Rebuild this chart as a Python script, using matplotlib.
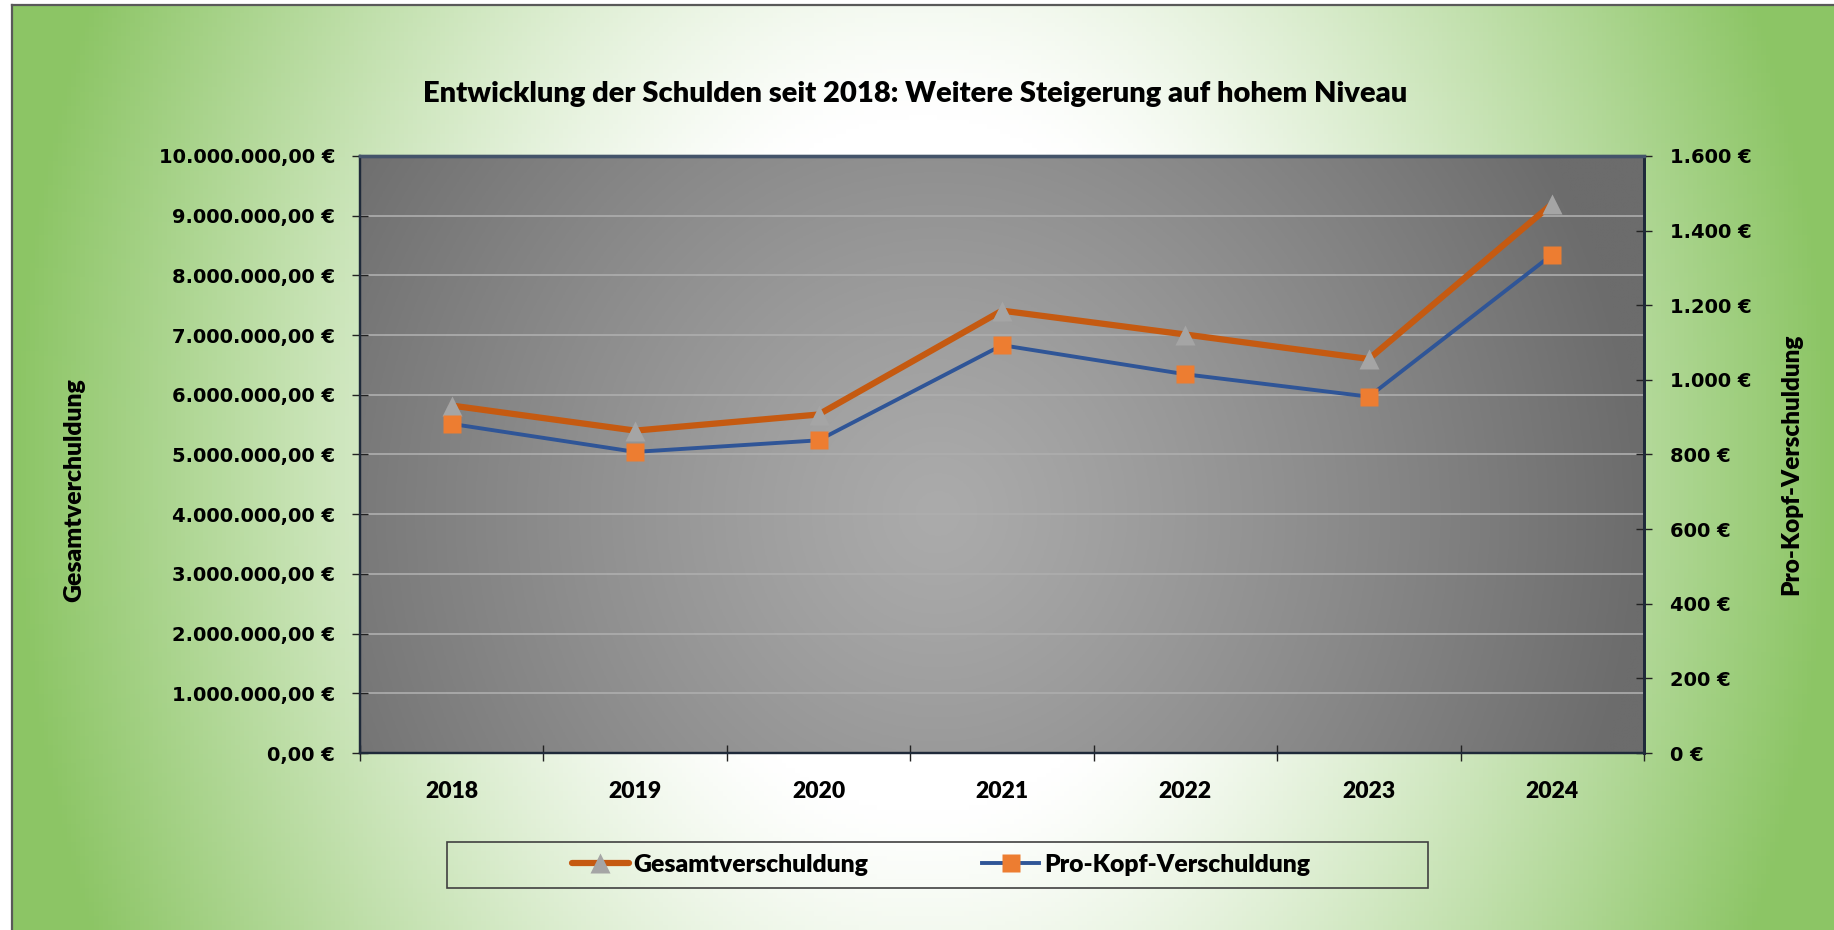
import numpy as np
import matplotlib
matplotlib.use("Agg")
import matplotlib.pyplot as plt
from matplotlib.ticker import FuncFormatter, MultipleLocator
from matplotlib.patches import Rectangle
from matplotlib.lines import Line2D

# data
years = ["2018", "2019", "2020", "2021", "2022", "2023", "2024"]
gesamt = [5820000, 5400000, 5670000, 7410000, 7010000, 6600000, 9200000]
pro_kopf = [882, 807, 838, 1093, 1015, 955, 1336]

W, H = 1834, 930
fig = plt.figure(figsize=(W / 100, H / 100), dpi=100)
fig.patch.set_facecolor("white")


def px(x, y):
    # pixel coords (top-left origin) -> figure fraction
    return x / W, 1 - y / H


def de_money(v, dec):
    s = f"{v:,.{dec}f}"
    return s.replace(",", "X").replace(".", ",").replace("X", ".") + " €"


# green radial background of the chart area
x0, ytop = 12, 5
bg = fig.add_axes([x0 / W, 0, 1 - x0 / W, 1 - ytop / H], zorder=-2)
gx, gy = np.meshgrid(np.linspace(0, 1, 400), np.linspace(0, 1, 200))
dx = (gx * (W - x0) + x0 - 923) / 911
dy = (gy * (H - ytop) + ytop - 465) / 465
t = np.sqrt(dx ** 2 + (0.4 * dy) ** 2)
f = np.clip((t - 0.3) / 0.7, 0, 1) ** 1.2
white = np.array([1.0, 1.0, 1.0])
green = np.array([140, 197, 101]) / 255
img = white[None, None, :] * (1 - f[..., None]) + green[None, None, :] * f[..., None]
bg.imshow(img, extent=[0, 1, 0, 1], aspect="auto", origin="upper")
bg.set_axis_off()

# chart frame lines (left and top)
fig.add_artist(Line2D([x0 / W, x0 / W], [0, 1 - ytop / H], color="#595959", lw=1.6))
fig.add_artist(Line2D([x0 / W, 1], [1 - ytop / H, 1 - ytop / H], color="#595959", lw=1.6))

# plot area
left, right, top, bottom = 360, 1644, 156, 753
pos = [left / W, 1 - bottom / H, (right - left) / W, (bottom - top) / H]

pbg = fig.add_axes(pos, zorder=0)
px_, py_ = np.meshgrid(np.linspace(0, 1, 400), np.linspace(1, 0, 200))
t2 = np.sqrt(((px_ - 0.45) / 0.55) ** 2 + (0.5 * (py_ - 0.4) / 0.6) ** 2)
f2 = np.clip(t2, 0, 1) ** 1.2
gray = (171 - (171 - 108) * f2) / 255
pbg.imshow(np.dstack([gray, gray, gray]), extent=[0, 1, 0, 1], aspect="auto", origin="upper")
pbg.set_axis_off()

ax = fig.add_axes(pos, zorder=1)
ax.patch.set_alpha(0)
ax2 = ax.twinx()
ax2.set_zorder(2)
ax2.patch.set_alpha(0)

xs = np.arange(len(years))
l1, = ax.plot(xs, gesamt, color="#C55A11", lw=4.5, marker="^", markersize=14,
              markerfacecolor="#A5A5A5", markeredgecolor="none", solid_capstyle="round",
              label="Gesamtverschuldung")
l2, = ax2.plot(xs, pro_kopf, color="#2F5597", lw=2.8, marker="s", markersize=13.5,
               markerfacecolor="#ED7D31", markeredgecolor="none",
               label="Pro-Kopf-Verschuldung")

ax.set_xlim(-0.5, len(years) - 0.5)
ax.set_ylim(0, 10000000)
ax2.set_ylim(0, 1600)
ax.yaxis.set_major_locator(MultipleLocator(1000000))
ax2.yaxis.set_major_locator(MultipleLocator(200))
ax.yaxis.set_major_formatter(FuncFormatter(lambda v, p: de_money(v, 2)))
ax2.yaxis.set_major_formatter(FuncFormatter(lambda v, p: de_money(v, 0)))

ax.set_xticks(np.arange(-0.5, len(years), 1.0))
ax.set_xticklabels([])
ax.set_xticks(xs, minor=True)
ax.set_xticklabels(years, minor=True)
ax.tick_params(axis="x", which="minor", length=0, pad=20)
ax.tick_params(axis="x", which="major", direction="inout", length=12, width=1, color="#222222")

for lab in ax.get_xticklabels(minor=True):
    lab.set_fontfamily("Lato")
    lab.set_fontweight("heavy")
    lab.set_fontsize(16.5)

ax.tick_params(axis="y", direction="inout", length=12, width=1, color="#222222", pad=12)
ax2.tick_params(axis="y", direction="inout", length=12, width=1, color="#222222", pad=13)
for lab in ax.get_yticklabels() + ax2.get_yticklabels():
    lab.set_fontfamily("DejaVu Sans")
    lab.set_fontweight("bold")
    lab.set_fontsize(14)

ax.grid(axis="y", color="#AEAEAE", lw=1.2)
ax.set_axisbelow(True)

for a in (ax, ax2):
    a.spines["left"].set_color("#1F2A3A")
    a.spines["bottom"].set_color("#1F2A3A")
    a.spines["right"].set_color("#1F2A3A")
    a.spines["top"].set_color("#44546A")
    a.spines["left"].set_linewidth(1.6)
    a.spines["bottom"].set_linewidth(1.6)
    a.spines["right"].set_linewidth(2.0)
    a.spines["top"].set_linewidth(2.4)

# texts
tx, ty = px(915, 94)
fig.text(tx, ty, "Entwicklung der Schulden seit 2018: Weitere Steigerung auf hohem Niveau",
         ha="center", va="center", fontsize=21, fontweight="heavy", family="Lato")
lx, ly = px(74, 490)
fig.text(lx, ly, "Gesamtverchuldung", rotation=90, ha="center", va="center",
         fontsize=17.8, fontweight="heavy", family="Lato")
rx, ry = px(1791, 464)
fig.text(rx, ry, "Pro-Kopf-Verschuldung", rotation=90, ha="center", va="center",
         fontsize=17.5, fontweight="heavy", family="Lato")

# legend
bx, by = px(447, 888)
fig.add_artist(Rectangle((bx, by), 981 / W, 46 / H, transform=fig.transFigure,
                         fill=False, edgecolor="#404040", lw=1.2))
cx, cy = px(941, 865)
fig.legend([l1, l2], ["Gesamtverschuldung", "Pro-Kopf-Verschuldung"], loc="center",
           bbox_to_anchor=(cx, cy), ncol=2, frameon=False, handlelength=2.3,
           handletextpad=0.2, columnspacing=4.6,
           prop={"family": "Lato", "weight": "heavy", "size": 17.8})

fig.savefig("out.png", dpi=100)
